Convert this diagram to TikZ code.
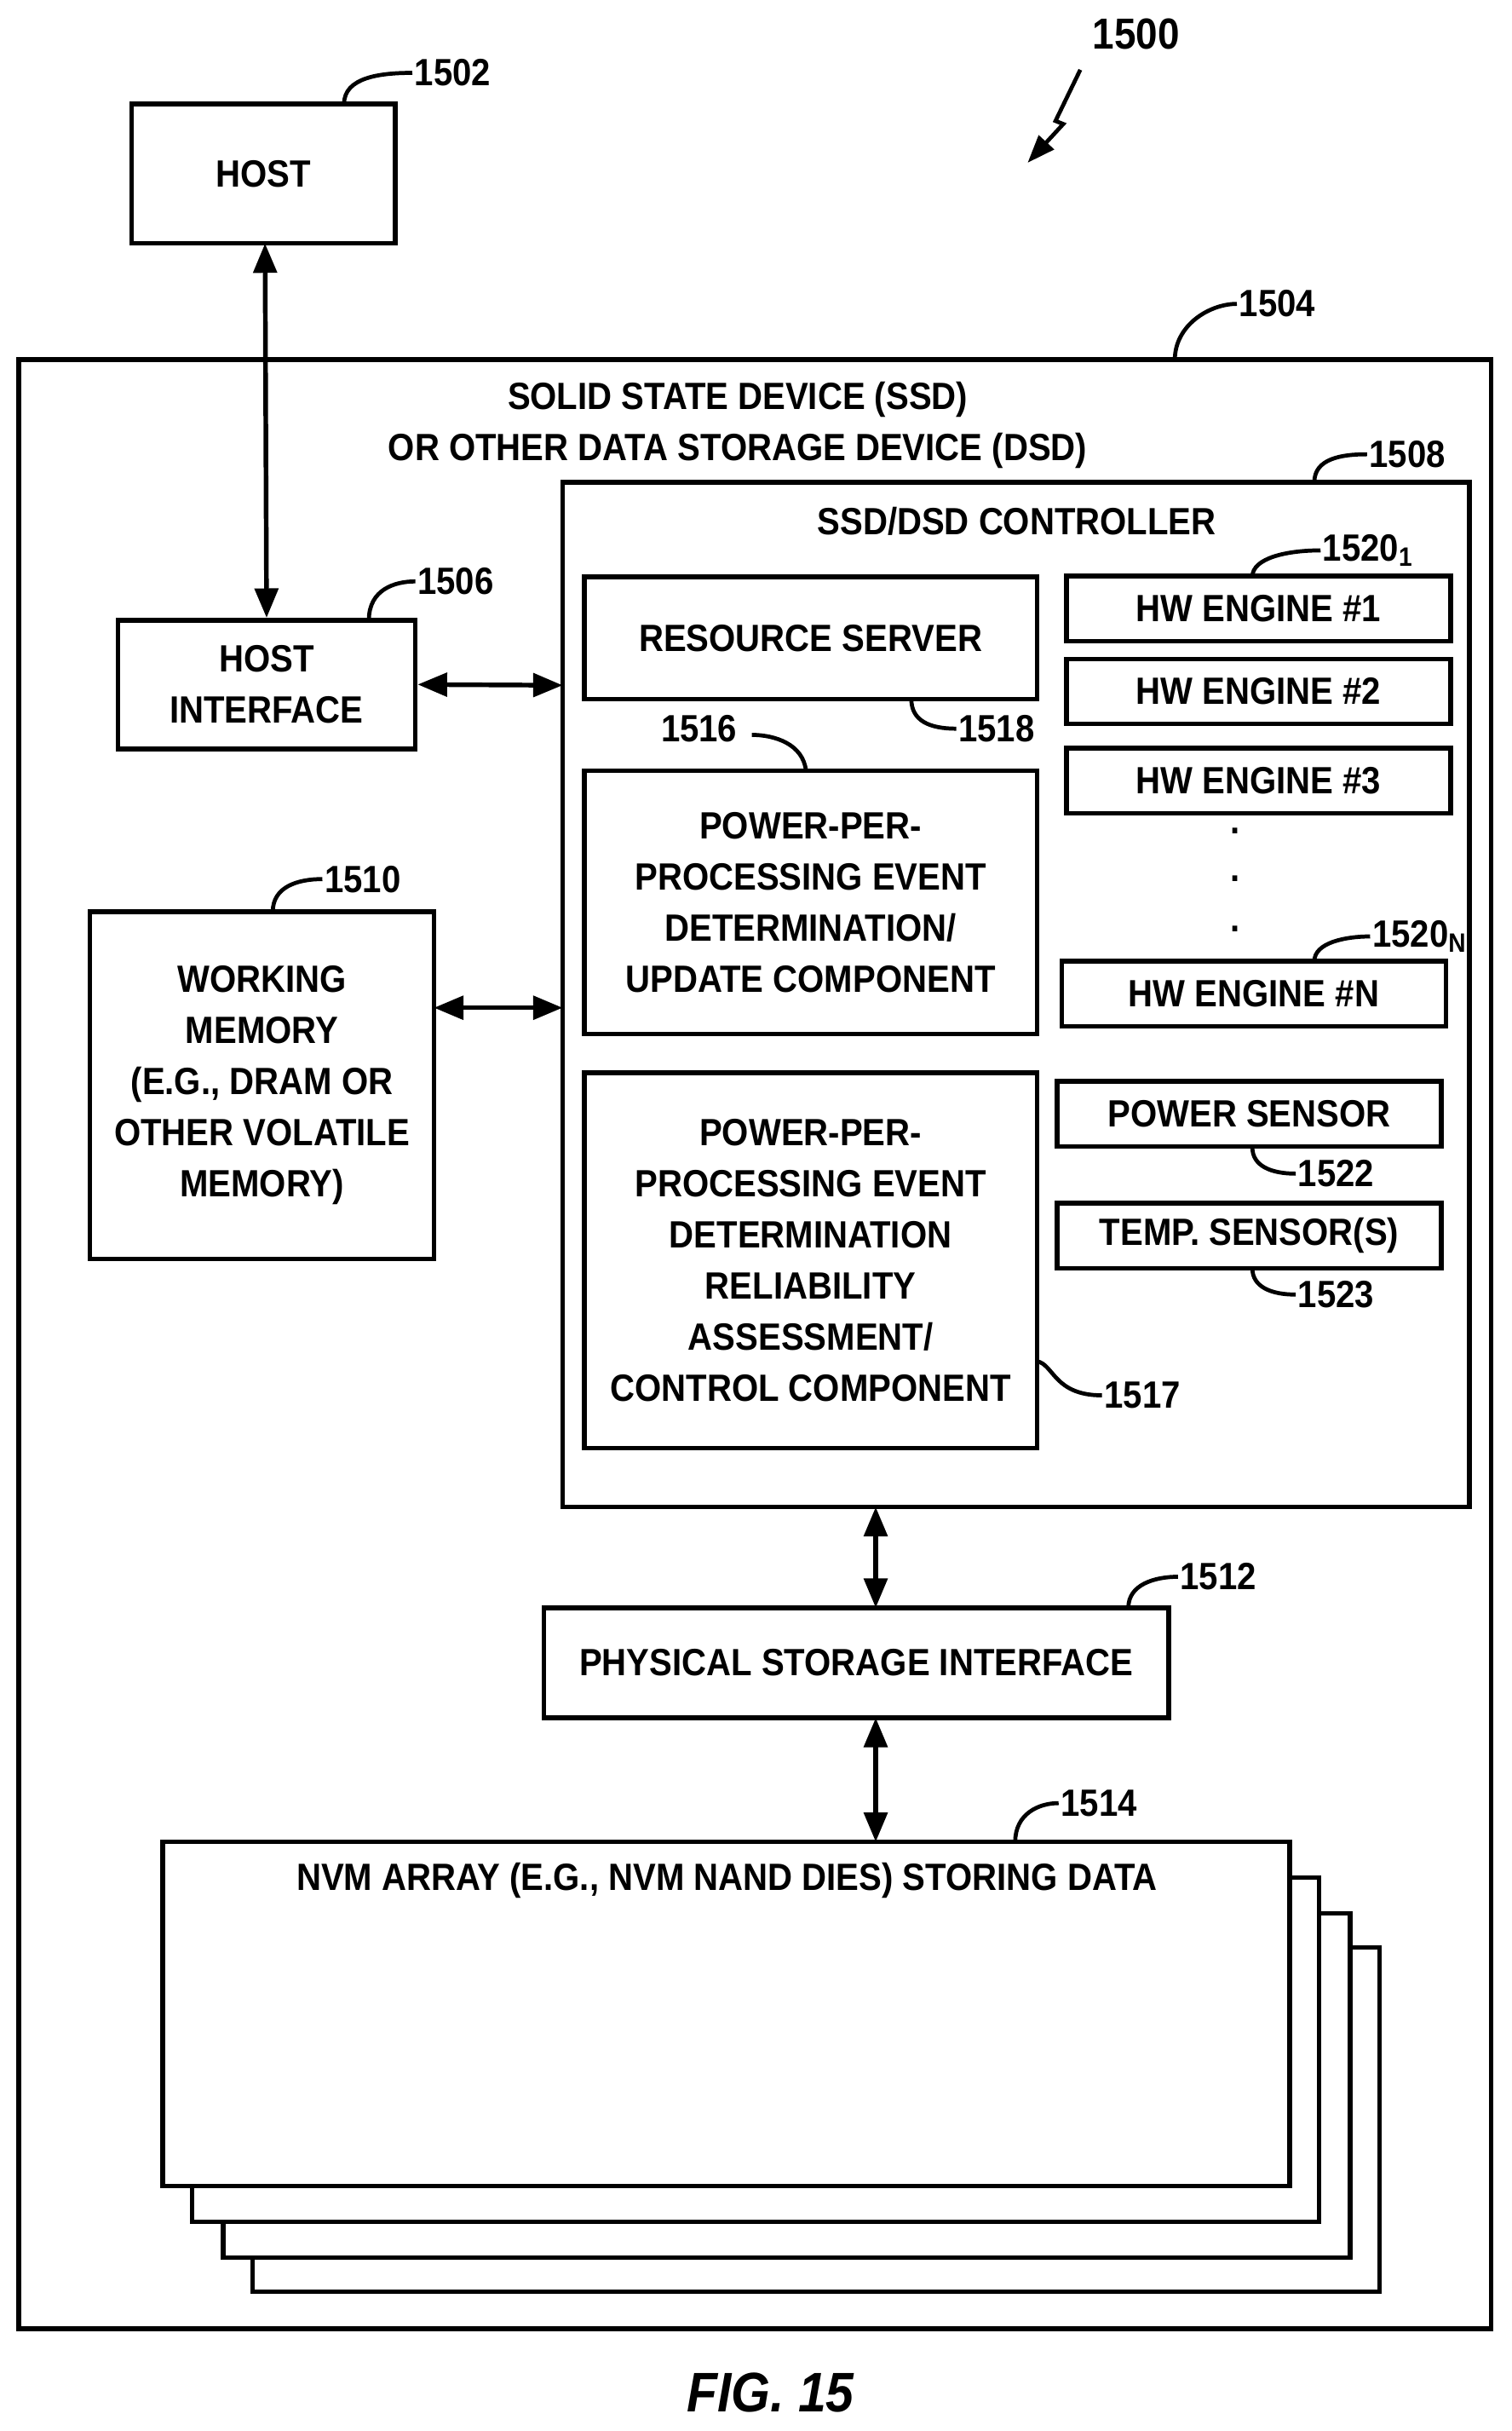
\documentclass[tikz,border=0pt]{standalone}
\usepackage{fontspec}
\setmainfont{Liberation Sans}[FakeStretch=0.9]
\usetikzlibrary{arrows.meta}
\begin{document}
\begin{tikzpicture}[x=1pt,y=-1pt,line width=3pt,
  every node/.style={font=\fontsize{24.5}{33}\selectfont\bfseries,inner sep=0pt},
  box/.style={draw,line width=3pt},
  lab/.style={anchor=west},
  arr/.style={{Triangle[length=19pt,width=15pt]}-{Triangle[length=19pt,width=15pt]},line width=3pt},
  lead/.style={line width=2.6pt}]
\useasboundingbox (0,0) rectangle (975,1568);
% host
\draw[box] (85,67) rectangle (255,157);
\node (host) at (170,112) {HOST};
\coordinate (hostb) at (171,157);
\node[lab] (l1502) at (266,47) {1502};
\draw[lead] (222,67) .. controls (222,50) and (245,47) .. (l1502.west);
% 1500
\node[font=\fontsize{28}{33}\selectfont\bfseries] (l1500) at (733,22) {1500};
\coordinate (z1) at (697,45); \coordinate (z4) at (663,105);
\draw[lead,-{Triangle[length=18pt,width=13pt]}] (z1) -- (681,78) -- (686,80) -- (z4);
% SSD
\draw[box] (12,232) rectangle (962,1502);
\node[lab] (l1504) at (798,196) {1504};
\draw[lead] (758,232) .. controls (758,210) and (780,196) .. (l1504.west);
\node[align=center] (ssd) at (476,274) {SOLID STATE DEVICE (SSD)\\OR OTHER DATA STORAGE DEVICE (DSD)};
% controller
\draw[box] (363,311) rectangle (948,972);
\node (ctl) at (656,336) {SSD/DSD CONTROLLER};
\node[lab] (l1508) at (882,293) {1508};
\draw[lead] (848,311) .. controls (848,296) and (865,293) .. (l1508.west);
% host interface
\node[box,minimum width=192pt,minimum height=83pt,align=center] (hi) at (172,441.5) {HOST\\INTERFACE};
\node[lab] (l1506) at (268,375) {1506};
\draw[lead] (238,400) .. controls (238,380) and (255,375) .. (l1506.west);
\draw[arr] (hostb) -- (hi.north);
\coordinate (ctlhi) at (363,442);
\draw[arr] (hi.east) -- (ctlhi);
% resource server
\node[box,minimum width=292pt,minimum height=79pt] (rs) at (523,411.5) {RESOURCE SERVER};
\node[lab] (l1518) at (617,470) {1518};
\draw[lead] (588,451) .. controls (588,465) and (600,470) .. (l1518.west);
\node[lab] (l1516) at (425,470) {1516};
% power box 1
\node[box,minimum width=292pt,minimum height=170pt,align=center] (pp1) at (523,582) {POWER-PER-\\PROCESSING EVENT\\DETERMINATION/\\UPDATE COMPONENT};
\draw[lead] (l1516.east) ++(8,4) .. controls (500,474) and (518,480) .. (520,497);
% power box 2
\node[box,minimum width=292pt,minimum height=242pt,align=center] (pp2) at (523,813) {POWER-PER-\\PROCESSING EVENT\\DETERMINATION\\RELIABILITY\\ASSESSMENT/\\CONTROL COMPONENT};
\node[lab] (l1517) at (711,900) {1517};
\draw[lead] (669,878) .. controls (680,880) and (680,900) .. (l1517.west);
% HW engines
\tikzset{hw/.style={box,minimum width=248pt,minimum height=42pt}}
\node[hw] (hw1) at (812,392.5) {HW ENGINE \#1};
\node[hw] (hw2) at (812,446) {HW ENGINE \#2};
\node[hw] (hw3) at (812,503.5) {HW ENGINE \#3};
\node (d1) at (797,536) {.};
\node (d2) at (797,567) {.};
\node (d3) at (797,599) {.};
\node[hw] (hwn) at (809,641) {HW ENGINE \#N};
\node[lab] (l15201) at (852,355) {1520\textsubscript{1}};
\draw[lead] (808,372) .. controls (808,360) and (830,355) .. (l15201.west);
\node[lab] (l1520n) at (884,604) {1520\textsubscript{N}};
\draw[lead] (848,620) .. controls (848,608) and (868,604) .. (l1520n.west);
% sensors
\node[hw] (ps) at (806,718.5) {POWER SENSOR};
\node[hw] (ts) at (806,797) {TEMP. SENSOR(S)};
\node[lab] (l1522) at (836,757) {1522};
\draw[lead] (808,740) .. controls (808,752) and (820,757) .. (l1522.west);
\node[lab] (l1523) at (836,835) {1523};
\draw[lead] (808,818) .. controls (808,830) and (820,835) .. (l1523.west);
% working memory
\node[box,minimum width=222pt,minimum height=224pt,align=center] (wm) at (169,700) {WORKING\\MEMORY\\(E.G., DRAM OR\\OTHER VOLATILE\\MEMORY)};
\node[lab] (l1510) at (208,567) {1510};
\draw[lead] (176,588) .. controls (176,572) and (192,567) .. (l1510.west);
\coordinate (ctlwm) at (363,650);
\draw[arr] (280,650) -- (ctlwm);
% PSI
\node[box,minimum width=403pt,minimum height=71pt] (psi) at (552.5,1072.5) {PHYSICAL STORAGE INTERFACE};
\node[lab] (l1512) at (760,1017) {1512};
\draw[lead] (728,1037) .. controls (728,1022) and (745,1017) .. (l1512.west);
\coordinate (ctlb) at (565,972);
\coordinate (psit) at (565,1037);
\coordinate (psib) at (565,1108);
\coordinate (nvmt) at (565,1188);
\draw[arr] (ctlb) -- (psit);
\draw[arr] (psib) -- (nvmt);
% NVM stack
\draw[box,fill=white] (163,1256) rectangle (890,1478);
\draw[box,fill=white] (144,1234) rectangle (871,1456);
\draw[box,fill=white] (124,1211) rectangle (851,1433);
\draw[box,fill=white] (105,1188) rectangle (832,1410);
\node (nvm) at (469,1213) {NVM ARRAY (E.G., NVM NAND DIES) STORING DATA};
\node[lab] (l1514) at (683,1163) {1514};
\draw[lead] (655,1188) .. controls (655,1170) and (670,1163) .. (l1514.west);
\node[font=\fontsize{36}{40}\selectfont\bfseries\itshape] (fig) at (497,1543) {FIG. 15};
\end{tikzpicture}
\end{document}
